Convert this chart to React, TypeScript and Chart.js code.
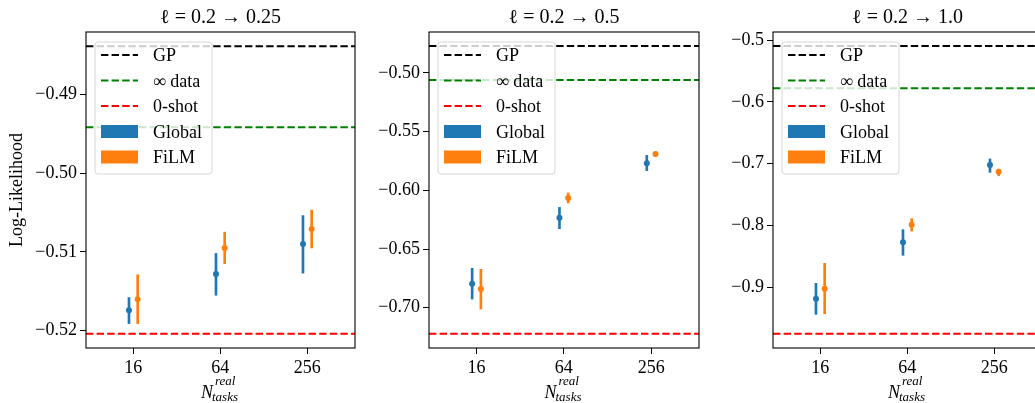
import React, { useEffect, useRef } from "react";
import { Chart, registerables } from "chart.js";

Chart.register(...registerables);

const FONT = "'Liberation Serif', 'DejaVu Serif', serif";

// ---- shared categories ----
const CATEGORIES = ["16", "64", "256"];
const X_POSITIONS = [0, 1, 2];
const GROUP_OFFSET = 0.05;
const X_MIN = -0.544;
const X_MAX = 2.548;

const LEGEND_LABELS = ["GP", "∞ data", "0-shot", "Global", "FiLM"];
const Y_LABEL = "Log-Likelihood";

// ---- panel 1: ℓ = 0.2 → 0.25 ----
const P1_TITLE = "ℓ = 0.2 → 0.25";
const P1_Y_TICKS = [-0.52, -0.51, -0.5, -0.49];
const P1_Y_RANGE = [-0.5222, -0.4821];
const P1_GP = -0.4839;
const P1_INF = -0.4942;
const P1_ZERO = -0.5204;
const P1_GLOBAL = [-0.5174, -0.5128, -0.509];
const P1_GLOBAL_LO = [-0.5191, -0.5155, -0.5127];
const P1_GLOBAL_HI = [-0.5158, -0.5102, -0.5054];
const P1_FILM = [-0.516, -0.5095, -0.5071];
const P1_FILM_LO = [-0.5191, -0.5115, -0.5095];
const P1_FILM_HI = [-0.5129, -0.5075, -0.5047];

// ---- panel 2: ℓ = 0.2 → 0.5 ----
const P2_TITLE = "ℓ = 0.2 → 0.5";
const P2_Y_TICKS = [-0.7, -0.65, -0.6, -0.55, -0.5];
const P2_Y_RANGE = [-0.7343, -0.4651];
const P2_GP = -0.477;
const P2_INF = -0.506;
const P2_ZERO = -0.7221;
const P2_GLOBAL = [-0.6796, -0.6233, -0.577];
const P2_GLOBAL_LO = [-0.6926, -0.6327, -0.5832];
const P2_GLOBAL_HI = [-0.6664, -0.6145, -0.5702];
const P2_FILM = [-0.6841, -0.6065, -0.569];
const P2_FILM_LO = [-0.7011, -0.6107, -0.5705];
const P2_FILM_HI = [-0.6673, -0.6022, -0.5678];

// ---- panel 3: ℓ = 0.2 → 1.0 ----
const P3_TITLE = "ℓ = 0.2 → 1.0";
const P3_Y_TICKS = [-0.9, -0.8, -0.7, -0.6, -0.5];
const P3_Y_RANGE = [-0.9989, -0.4865];
const P3_GP = -0.5092;
const P3_INF = -0.5778;
const P3_ZERO = -0.9757;
const P3_GLOBAL = [-0.919, -0.8276, -0.702];
const P3_GLOBAL_LO = [-0.9443, -0.8486, -0.714];
const P3_GLOBAL_HI = [-0.894, -0.807, -0.6924];
const P3_FILM = [-0.9027, -0.799, -0.713];
const P3_FILM_LO = [-0.9432, -0.8093, -0.7196];
const P3_FILM_HI = [-0.8616, -0.7892, -0.709];

// ---- styles ----
const C_GP = "#000000";
const C_INF = "#008000";
const C_ZERO = "#ff0000";
const C_GLOBAL = "#1f77b4";
const C_FILM = "#ff7f0e";
const DASH = [7.4, 3.2];

type PanelData = {
  title: string;
  yTicks: number[];
  yRange: number[];
  decimals: number;
  gp: number;
  inf: number;
  zero: number;
  g: number[];
  gLo: number[];
  gHi: number[];
  f: number[];
  fLo: number[];
  fHi: number[];
};

type PanelLayout = {
  left: number;
  width: number;
  yAxisWidth: number;
  padRight: number;
  showYLabel: boolean;
};

const PANELS: { data: PanelData; layout: PanelLayout }[] = [
  {
    data: {
      title: P1_TITLE, yTicks: P1_Y_TICKS, yRange: P1_Y_RANGE, decimals: 2,
      gp: P1_GP, inf: P1_INF, zero: P1_ZERO,
      g: P1_GLOBAL, gLo: P1_GLOBAL_LO, gHi: P1_GLOBAL_HI,
      f: P1_FILM, fLo: P1_FILM_LO, fHi: P1_FILM_HI,
    },
    layout: { left: 0, width: 360, yAxisWidth: 86, padRight: 5, showYLabel: true },
  },
  {
    data: {
      title: P2_TITLE, yTicks: P2_Y_TICKS, yRange: P2_Y_RANGE, decimals: 2,
      gp: P2_GP, inf: P2_INF, zero: P2_ZERO,
      g: P2_GLOBAL, gLo: P2_GLOBAL_LO, gHi: P2_GLOBAL_HI,
      f: P2_FILM, fLo: P2_FILM_LO, fHi: P2_FILM_HI,
    },
    layout: { left: 360, width: 344, yAxisWidth: 69, padRight: 5, showYLabel: false },
  },
  {
    data: {
      title: P3_TITLE, yTicks: P3_Y_TICKS, yRange: P3_Y_RANGE, decimals: 1,
      gp: P3_GP, inf: P3_INF, zero: P3_ZERO,
      g: P3_GLOBAL, gLo: P3_GLOBAL_LO, gHi: P3_GLOBAL_HI,
      f: P3_FILM, fLo: P3_FILM_LO, fHi: P3_FILM_HI,
    },
    layout: { left: 704, width: 344, yAxisWidth: 69, padRight: 6, showYLabel: false },
  },
];

const HEIGHT = 403;
const TOP_PAD = 32;
const X_AXIS_HEIGHT = 55;

function fmt(v: number, d: number) {
  const s = Math.abs(v).toFixed(d);
  return v < 0 ? "\u2212" + s : s;
}

function PanelChart({ data, layout }: { data: PanelData; layout: PanelLayout }) {
  const ref = useRef<HTMLCanvasElement | null>(null);

  useEffect(() => {
    const canvas = ref.current;
    if (!canvas) return;

    const hline = (label: string, y: number, color: string) => ({
      type: "line" as const,
      label,
      data: [
        { x: X_MIN, y },
        { x: X_MAX, y },
      ],
      borderColor: color,
      borderWidth: 2,
      borderDash: DASH,
      pointRadius: 0,
      fill: false,
      order: 5,
    });

    const bars = (label: string, off: number, lo: number[], hi: number[], color: string) => ({
      type: "bar" as const,
      label,
      data: X_POSITIONS.map((x, i) => ({ x: x + off, y: [lo[i], hi[i]] })),
      backgroundColor: color,
      borderWidth: 0,
      grouped: false,
      maxBarThickness: 2,
      barPercentage: 1,
      categoryPercentage: 1,
      order: 2,
    });

    const points = (label: string, off: number, vals: number[], color: string) => ({
      type: "line" as const,
      label,
      data: X_POSITIONS.map((x, i) => ({ x: x + off, y: vals[i] })),
      showLine: false,
      pointRadius: 3,
      pointBackgroundColor: color,
      pointBorderWidth: 0,
      borderColor: color,
      order: 1,
    });

    const deco = {
      id: "deco",
      afterDatasetsDraw(chart: any) {
        const { ctx, chartArea: a } = chart;
        ctx.save();
        // frame
        ctx.strokeStyle = "#000";
        ctx.lineWidth = 1.1;
        ctx.setLineDash([]);
        ctx.strokeRect(a.left, a.top, a.right - a.left, a.bottom - a.top);

        // legend
        const lx = a.left + 9;
        const ly = a.top + 10;
        const lw = 117;
        const lh = 132;
        ctx.beginPath();
        ctx.roundRect(lx, ly, lw, lh, 3);
        ctx.fillStyle = "rgba(255,255,255,0.8)";
        ctx.fill();
        ctx.strokeStyle = "rgba(204,204,204,0.8)";
        ctx.lineWidth = 1;
        ctx.stroke();
        const colors = [C_GP, C_INF, C_ZERO, C_GLOBAL, C_FILM];
        ctx.font = `18px ${FONT}`;
        ctx.textAlign = "left";
        ctx.textBaseline = "alphabetic";
        LEGEND_LABELS.forEach((lab, i) => {
          const cy = ly + 13 + i * 25.5;
          if (i < 3) {
            ctx.beginPath();
            ctx.setLineDash(DASH);
            ctx.strokeStyle = colors[i];
            ctx.lineWidth = 2;
            ctx.moveTo(lx + 6, cy);
            ctx.lineTo(lx + 43, cy);
            ctx.stroke();
            ctx.setLineDash([]);
          } else {
            ctx.fillStyle = colors[i];
            ctx.fillRect(lx + 6, cy - 6.5, 37, 13);
          }
          ctx.fillStyle = "#000";
          ctx.fillText(lab, lx + 58, cy + 6);
        });

        // title
        const cx = (a.left + a.right) / 2;
        ctx.font = `20px ${FONT}`;
        ctx.textAlign = "center";
        ctx.fillStyle = "#000";
        ctx.fillText(data.title, cx, 23);

        // x label: N_tasks^real
        ctx.textAlign = "left";
        ctx.font = `italic 18px ${FONT}`;
        const wN = ctx.measureText("N").width;
        ctx.font = `italic 13px ${FONT}`;
        const wS = Math.max(ctx.measureText("real").width, ctx.measureText("tasks").width);
        const total = wN + 1 + wS;
        const x0 = cx - total / 2;
        ctx.font = `italic 18px ${FONT}`;
        ctx.fillText("N", x0, 398);
        ctx.font = `italic 13px ${FONT}`;
        ctx.fillText("real", x0 + wN + 2, 385);
        ctx.fillText("tasks", x0 + wN - 1, 401);

        // y label
        if (layout.showYLabel) {
          ctx.translate(17, (a.top + a.bottom) / 2);
          ctx.rotate(-Math.PI / 2);
          ctx.font = `18px ${FONT}`;
          ctx.textAlign = "center";
          ctx.textBaseline = "middle";
          ctx.fillText(Y_LABEL, 0, 0);
        }
        ctx.restore();
      },
    };

    const chart = new Chart(canvas, {
      type: "bar",
      data: {
        datasets: [
          hline(LEGEND_LABELS[0], data.gp, C_GP),
          hline(LEGEND_LABELS[1], data.inf, C_INF),
          hline(LEGEND_LABELS[2], data.zero, C_ZERO),
          bars(LEGEND_LABELS[3], -GROUP_OFFSET, data.gLo, data.gHi, C_GLOBAL),
          bars(LEGEND_LABELS[4], GROUP_OFFSET, data.fLo, data.fHi, C_FILM),
          points(LEGEND_LABELS[3], -GROUP_OFFSET, data.g, C_GLOBAL),
          points(LEGEND_LABELS[4], GROUP_OFFSET, data.f, C_FILM),
        ] as any,
      },
      options: {
        responsive: false,
        animation: false,
        devicePixelRatio: 1,
        events: [],
        layout: { padding: { top: TOP_PAD, right: layout.padRight, bottom: 0, left: 0 } },
        plugins: {
          legend: { display: false },
          tooltip: { enabled: false },
          title: { display: false },
        },
        scales: {
          x: {
            type: "linear",
            min: X_MIN,
            max: X_MAX,
            offset: false,
            afterBuildTicks: (s: any) => {
              s.ticks = X_POSITIONS.map((v) => ({ value: v }));
            },
            afterFit: (s: any) => {
              s.height = X_AXIS_HEIGHT;
            },
            grid: {
              offset: false,
              drawOnChartArea: false,
              drawTicks: true,
              tickLength: 6,
              color: "#000",
              lineWidth: 1,
            },
            border: { display: false },
            ticks: {
              padding: 3,
              color: "#000",
              maxRotation: 0,
              autoSkip: false,
              font: { family: FONT, size: 18 },
              callback: (_v: any, i: number) => CATEGORIES[i],
            },
          },
          y: {
            type: "linear",
            min: data.yRange[0],
            max: data.yRange[1],
            afterBuildTicks: (s: any) => {
              s.ticks = data.yTicks.map((v) => ({ value: v }));
            },
            afterFit: (s: any) => {
              s.width = layout.yAxisWidth;
            },
            grid: {
              offset: false,
              drawOnChartArea: false,
              drawTicks: true,
              tickLength: 6,
              color: "#000",
              lineWidth: 1,
            },
            border: { display: false },
            ticks: {
              padding: 3,
              color: "#000",
              autoSkip: false,
              font: { family: FONT, size: 18 },
              callback: (v: any) => fmt(Number(v), data.decimals),
            },
          },
        },
      } as any,
      plugins: [deco],
    });

    return () => chart.destroy();
  }, [data, layout]);

  return (
    <canvas
      ref={ref}
      width={layout.width}
      height={HEIGHT}
      style={{
        position: "absolute",
        left: layout.left,
        top: 0,
        width: layout.width,
        height: HEIGHT,
      }}
    />
  );
}

export default function App() {
  return (
    <div
      style={{
        position: "fixed",
        left: 0,
        top: 0,
        width: 1035,
        height: HEIGHT,
        overflow: "hidden",
        background: "#fff",
      }}
    >
      {PANELS.map((p, i) => (
        <PanelChart key={i} data={p.data} layout={p.layout} />
      ))}
    </div>
  );
}
